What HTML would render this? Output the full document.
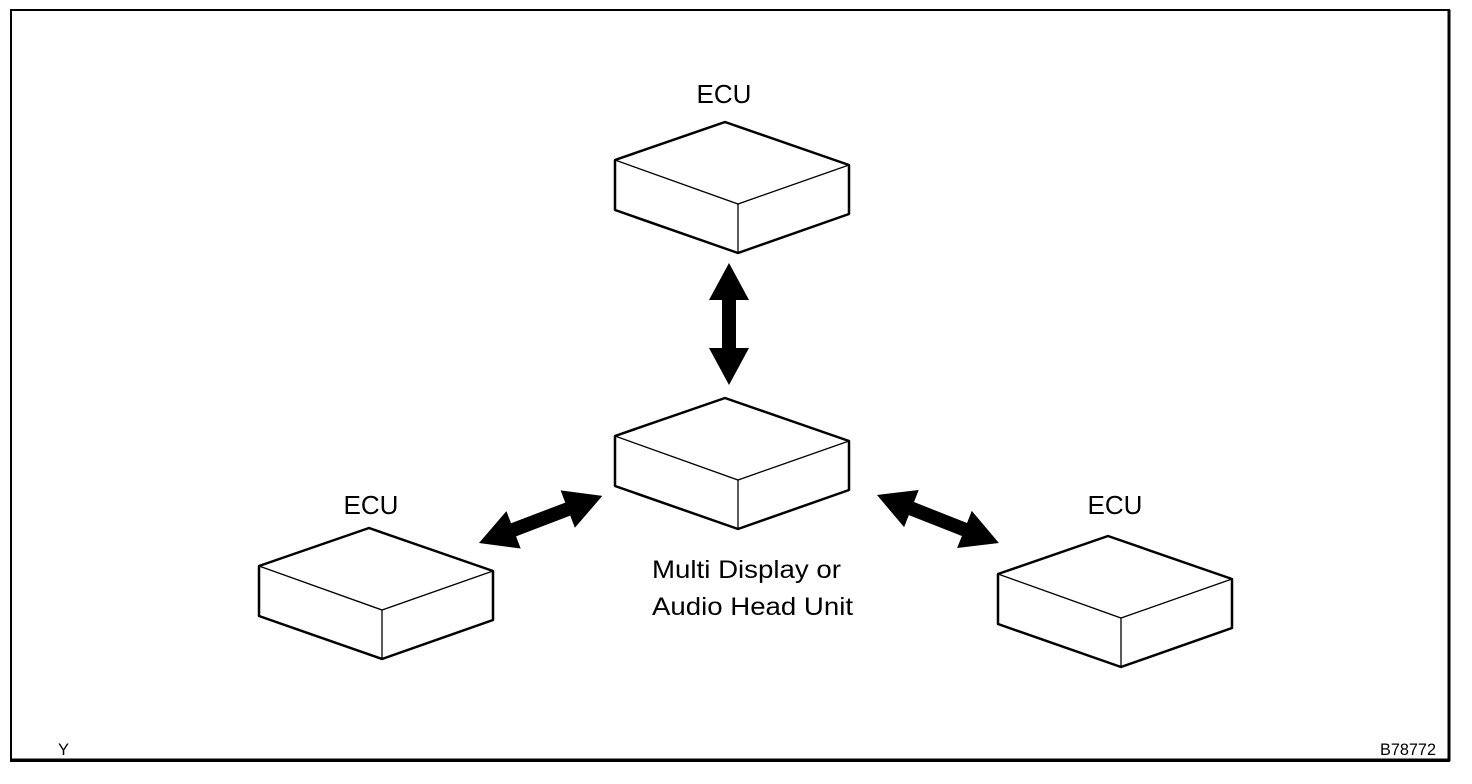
<!DOCTYPE html>
<html><head><meta charset="utf-8"><style>
html,body{margin:0;padding:0;background:#fff;}
svg{display:block;}
text{font-family:"Liberation Sans",sans-serif;fill:#000;}
</style></head><body>
<svg width="1472" height="784" viewBox="0 0 1472 784" xmlns="http://www.w3.org/2000/svg">
<rect x="0" y="0" width="1472" height="784" fill="#fff"/>
<path d="M11 10 H1449 V761 H11 Z" fill="none" stroke="#000" stroke-width="2"/>
<line x1="11" y1="760" x2="1449" y2="760" stroke="#000" stroke-width="3"/>
<line x1="1449" y1="10" x2="1449" y2="761" stroke="#000" stroke-width="3"/>

<defs>
<g id="box">
<polygon points="110,0 0,38 0,88 123,131 234,92 234,43" fill="#fff" stroke="#000" stroke-width="2.5" stroke-linejoin="round"/>
<polyline points="0,38 123,82 234,43" fill="none" stroke="#000" stroke-width="1.3"/>
<line x1="123" y1="82" x2="123" y2="131" stroke="#000" stroke-width="1.3"/>
</g>
</defs>

<use href="#box" transform="translate(615,122)"/>
<use href="#box" transform="translate(615,398)"/>
<use href="#box" transform="translate(259,528)"/>
<use href="#box" transform="translate(998,536)"/>

<polygon points="729,263 749,300 736,300 736,348 749,348 729,385 709,348 722,348 722,300 709,300" fill="#000"/>
<g transform="translate(479,543) rotate(-20.9)">
<polygon points="0,0 37,-20 37,-7 95,-7 95,-20 132,0 95,20 95,7 37,7 37,20" fill="#000"/>
</g>
<g transform="translate(877,495) rotate(21.5)">
<polygon points="0,0 37,-20 37,-7 94,-7 94,-20 131,0 94,20 94,7 37,7 37,20" fill="#000"/>
</g>

<text x="724" y="103" font-size="26" text-anchor="middle">ECU</text>
<text x="371" y="514" font-size="26" text-anchor="middle">ECU</text>
<text x="1115" y="514" font-size="26" text-anchor="middle">ECU</text>
<text x="652" y="578" font-size="25" textLength="189" lengthAdjust="spacingAndGlyphs">Multi Display or</text>
<text x="652" y="615" font-size="25" textLength="201" lengthAdjust="spacingAndGlyphs">Audio Head Unit</text>
<text x="58" y="755" font-size="17" textLength="11" lengthAdjust="spacingAndGlyphs">Y</text>
<text x="1380" y="755" font-size="17" textLength="56" lengthAdjust="spacingAndGlyphs">B78772</text>
</svg>
</body></html>
